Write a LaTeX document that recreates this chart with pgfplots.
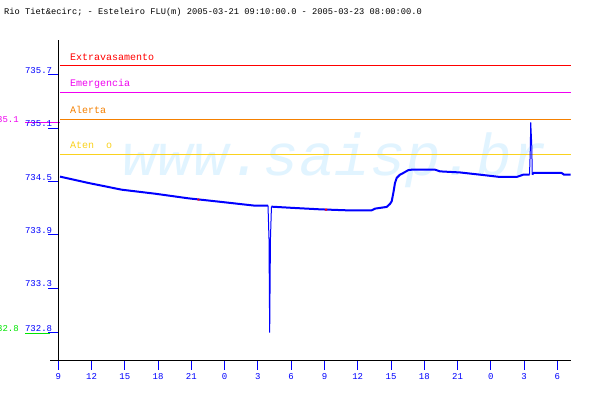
\documentclass[border=0pt]{standalone}
\usepackage{pgfplots}
\pgfplotsset{compat=1.18}
\usepackage{fontspec}
\setmainfont{Liberation Mono}
\definecolor{cblue}{RGB}{0,0,255}
\definecolor{cred}{RGB}{255,0,0}
\definecolor{cmag}{RGB}{240,0,240}
\definecolor{corange}{RGB}{245,128,0}
\definecolor{cyellow}{RGB}{250,210,30}
\definecolor{cgreen}{RGB}{0,230,0}
\definecolor{wm}{RGB}{225,244,255}
\begin{document}
\begin{tikzpicture}
\path[use as bounding box] (0pt,0pt) rectangle (600pt,400pt);
\fill[white] (0pt,0pt) rectangle (600pt,400pt);
\node[anchor=base west, font=\fontsize{8.7}{10}\selectfont, inner sep=0pt] at (4pt,385.5pt) {Rio Tiet\&ecirc; - Esteleiro FLU(m) 2005-03-21 09:10:00.0 - 2005-03-23 08:00:00.0};
\node[anchor=base west, font=\fontsize{59}{60}\selectfont\itshape, text=wm, inner sep=0pt] at (122pt,225pt) {www.saisp.br};
% max / min markers at the left
\draw[cmag, line width=1pt] (25pt,277.3pt) -- (60pt,277.3pt);
\node[anchor=base east, text=cmag, inner sep=0pt, font=\fontsize{9}{10}\selectfont] at (19pt,278pt) {735.1};
\draw[cgreen, line width=1pt] (25pt,67pt) -- (50pt,67pt);
\node[anchor=base east, text=cgreen, inner sep=0pt, font=\fontsize{9}{10}\selectfont] at (19pt,68.5pt) {732.8};
\draw[black, line width=1pt] (50pt,40pt) -- (60pt,40pt);
\begin{axis}[
  at={(58.3pt,40pt)}, anchor=south west, scale only axis,
  width=512.3pt, height=320pt,
  xmin=9, xmax=55.195, ymin=732.49, ymax=736.09,
  axis x line=bottom, axis y line=left,
  axis line style={-, black, line width=1pt},
  xtick={9,12,...,54},
  xticklabels={9,12,15,18,21,0,3,6,9,12,15,18,21,0,3,6},
  ytick={732.8,733.3,733.9,734.5,735.1,735.7},
  yticklabel style={/pgf/number format/fixed, /pgf/number format/precision=1, /pgf/number format/fixed zerofill, anchor=south east, inner sep=0pt, xshift=4pt, yshift=1pt},
  xticklabel style={inner sep=0pt, yshift=-3pt},
  /pgf/number format/assume math mode=true,
  tick style={cblue, line width=1pt},
  tick align=outside, major tick length=10pt,
  ticklabel style={text=cblue, font=\fontsize{9}{10}\selectfont},
  clip=false,
]
% threshold lines
\draw[cred, line width=1pt] (axis cs:9.15,735.8) -- (axis cs:55.195,735.8);
\draw[cmag, line width=1pt] (axis cs:9.15,735.494) -- (axis cs:55.195,735.494);
\draw[corange, line width=1pt] (axis cs:9.15,735.2) -- (axis cs:55.195,735.2);
\draw[cyellow, line width=1pt] (axis cs:9.15,734.797) -- (axis cs:55.195,734.797);
\node[anchor=base west, text=cred, inner sep=0pt, font=\fontsize{10}{11}\selectfont] at (axis cs:10.05,735.861) {Extravasamento};
\node[anchor=base west, text=cmag, inner sep=0pt, font=\fontsize{10}{11}\selectfont] at (axis cs:10.05,735.562) {Emergencia};
\node[anchor=base west, text=corange, inner sep=0pt, font=\fontsize{10}{11}\selectfont] at (axis cs:10.05,735.261) {Alerta};
\node[anchor=base west, text=cyellow, inner sep=0pt, font=\fontsize{10}{11}\selectfont] at (axis cs:10.05,734.864) {Aten\ \ o};
% data
\addplot[cblue, line width=2pt, line join=round] coordinates {
(9.153,734.553) (11.705,734.482) (14.717,734.406) (17.72,734.361) (20.72,734.309)
(23.73,734.268) (26.74,734.226) (27.91,734.226)
};
\addplot[cblue, line width=1pt] coordinates {
(27.91,734.226) (27.999,733.855) (28.06,732.798) (28.13,733.855) (28.22,734.215)
};
\addplot[cblue, line width=2pt, line join=round] coordinates {
(28.22,734.215) (30.19,734.201) (32.6,734.185) (35.01,734.174) (37.26,734.174)
(37.56,734.193) (38.61,734.212) (38.91,734.246) (39.06,734.275) (39.21,734.369)
(39.36,734.482) (39.51,734.538) (39.81,734.575) (40.11,734.594) (40.56,734.626)
(40.87,734.631) (42.97,734.631) (43.42,734.612) (45.22,734.600) (47.03,734.575)
(48.83,734.549) (50.33,734.549) (50.93,734.575) (51.49,734.575)
};
\addplot[cblue, line width=1pt] coordinates {
(51.49,734.575) (51.56,734.856) (51.60,735.163) (51.69,734.913) (51.74,734.575)
};
\addplot[cblue, line width=2pt, line join=round] coordinates {
(51.74,734.575) (51.83,734.594) (54.39,734.594) (54.60,734.575) (55.19,734.575)
};
\addplot[cred, line width=2pt] coordinates {(21.55,734.296) (21.72,734.294)};
\addplot[cred, line width=2pt] coordinates {(33.05,734.182) (33.25,734.181)};
\end{axis}
\end{tikzpicture}
\end{document}
